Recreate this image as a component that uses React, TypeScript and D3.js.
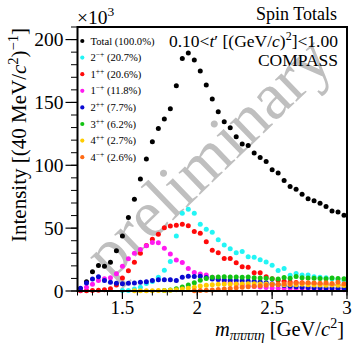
import React from "react";
import * as d3 from "d3";

// 40 MeV/c^2 mass bins (bin centres, GeV/c^2)
const massBins = [
  1.22, 1.26, 1.3, 1.34, 1.38, 1.42, 1.46, 1.5, 1.54, 1.58, 1.62, 1.66, 1.7, 1.74, 1.78,
  1.82, 1.86, 1.9, 1.94, 1.98, 2.02, 2.06, 2.1, 2.14, 2.18, 2.22, 2.26, 2.3, 2.34, 2.38,
  2.42, 2.46, 2.5, 2.54, 2.58, 2.62, 2.66, 2.7, 2.74, 2.78, 2.82, 2.86, 2.9, 2.94, 2.98,
];

// Intensities in units of 10^3 events per bin; null = wave not in the model for that bin
const totalIntensity = [
  1.6, 7.4, 15.4, 20.2, 19.7, 22.8, 32.1, 43.8, 58.5, 73.0, 89.0, 105.0, 118.7, 129.3, 136.8,
  145.0, 163.3, 184.9, 189.4, 183.8, 175.0, 163.8, 152.7, 142.6, 134.7, 129.9, 122.7, 116.9, 115.8, 109.7,
  106.2, 103.1, 96.4, 93.8, 87.9, 83.1, 81.0, 77.0, 73.3, 71.7, 69.9, 67.2, 63.7, 62.9, 60.3,
];
const wave2mp = [
  null, null, null, null, null, null, null, 0.3, 0.4, 1.5, 3.0, 6.0, 7.5, 11.0, 16.5,
  23.5, 43.8, 61.9, 65.1, 61.9, 53.1, 49.1, 46.8, 40.8, 36.6, 33.7, 30.5, 31.4, 27.3, 26.8,
  24.8, 23.1, 20.4, 16.3, 17.9, 12.5, 14.0, 12.8, 12.7, 11.4, 11.0, 10.5, 9.8, 9.0, 8.2,
];
const wave1pp = [
  0.2, 0.2, 0.3, 0.5, 1.0, 1.8, 4.8, 10.3, 16.2, 22.8, 30.0, 36.2, 41.2, 45.2, 50.4,
  51.8, 52.3, 53.1, 52.0, 47.4, 46.0, 39.1, 32.5, 30.5, 25.9, 25.8, 22.4, 19.3, 18.8, 14.6,
  14.6, 11.3, 9.8, 8.5, 7.8, 7.2, 6.8, 6.5, 6.2, 6.0, 5.6, 5.4, 5.0, 4.8, 4.5,
];
const wave1mp = [
  0.8, 2.9, 5.4, 8.4, 9.7, 10.5, 13.7, 19.7, 25.6, 30.0, 33.0, 36.0, 38.5, 38.3, 34.0,
  29.4, 24.6, 22.7, 17.8, 14.8, 13.5, 12.8, 11.0, 9.3, 8.0, 6.7, 5.6, 4.7, 4.1, 3.6,
  3.1, 2.7, 2.4, 2.2, 2.0, 1.9, 1.8, 1.7, 1.6, 1.5, 1.4, 1.3, 1.2, 1.1, 1.0,
];
const wave2pp = [
  2.1, 6.3, 9.6, 11.4, 8.3, 6.9, 6.1, 5.8, 6.1, 6.3, 6.9, 7.4, 8.4, 8.9, 9.0,
  8.9, 8.3, 11.0, 11.8, 11.6, 11.8, 10.8, 9.6, 9.2, 8.8, 8.6, 8.4, 8.2, 8.0, 7.8,
  7.2, 6.6, 5.8, 5.0, 4.4, 3.8, 3.4, 3.0, 2.8, 2.6, 2.5, 2.4, 2.3, 2.2, 2.1,
];
const wave3pp = [
  null, null, null, null, null, null, null, null, null, null, null, null, null, null, 0.3,
  0.8, 1.8, 3.2, 4.8, 6.6, 8.6, 10.0, 11.0, 11.2, 11.3, 11.2, 11.2, 11.0, 11.1, 10.6,
  10.4, 10.2, 9.8, 9.6, 10.8, 10.2, 11.6, 10.6, 10.4, 10.2, 10.0, 9.8, 10.4, 10.0, 9.8,
];
const wave4pp = [
  null, null, null, null, null, null, null, null, null, 0.1, 0.1, 0.1, 0.2, 0.3, 0.4,
  0.6, 1.0, 1.5, 2.2, 3.0, 4.0, 4.6, 5.0, 5.3, 5.5, 5.6, 5.6, 5.5, 5.8, 5.7,
  5.5, 5.5, 5.3, 5.2, 5.0, 5.1, 5.0, 5.3, 5.0, 4.8, 4.8, 4.6, 4.7, 4.5, 4.3,
];
const wave4mp = [
  null, null, null, null, null, null, null, null, null, null, null, null, null, null, null,
  null, null, null, null, 0.1, 0.3, 0.5, 0.8, 1.2, 1.6, 2.0, 2.5, 3.0, 3.4, 3.8,
  4.2, 4.6, 5.0, 5.4, 5.8, 6.0, 6.4, 6.3, 6.5, 6.3, 6.2, 6.6, 6.0, 7.0, 5.8,
];

// Legend entries: base label, superscript, integrated fraction
const seriesNames = ["Total", "2", "1", "1", "2", "3", "4", "4"];
const seriesSup = ["", "\u2212+", "++", "\u2212+", "++", "++", "++", "\u2212+"];
const seriesFractions = ["100.0%", "20.7%", "20.6%", "11.8%", "7.7%", "6.2%", "2.7%", "2.6%"];
const seriesColors = ["#000000", "#22f5f5", "#ff0a0a", "#ff1af0", "#0a0ad2", "#12c312", "#ffcc00", "#ff6a14"];
const seriesValues = [totalIntensity, wave2mp, wave1pp, wave1mp, wave2pp, wave3pp, wave4pp, wave4mp];

const W = 352;
const H = 348;
const FONT = "'Liberation Serif', 'Times New Roman', serif";

export default function App() {
  const x = d3.scaleLinear().domain([1.2, 3.0]).range([77.5, 347]);
  const y = d3.scaleLinear().domain([0, 210]).range([291, 27]);

  const xMajor = [1.5, 2.0, 2.5, 3.0];
  const xMinor = d3.range(12, 31).map((v) => v / 10);
  const yMajor = y.ticks(5);
  const yMinor = d3.range(0, 211, 10);

  const [x0, x1] = x.range();
  const [yb, yt] = y.range();

  return (
    <svg
      width={W}
      height={H}
      viewBox={`0 0 ${W} ${H}`}
      style={{ position: "absolute", left: 0, top: 0, background: "#fff" }}
      fontFamily={FONT}
    >
      <rect x={0} y={0} width={W} height={H} fill="#fff" />

      {/* watermark */}
      <g transform="translate(212.5,161.7) rotate(-44)">
        <text x={0} y={15} textAnchor="middle" fontSize={67} fill="#bfbfbf">
          preliminary
        </text>
      </g>

      {/* data points */}
      {seriesValues.map((vals, si) => (
        <g key={si} fill={seriesColors[si]}>
          {vals.map((v, i) =>
            v == null ? null : <circle key={i} cx={x(massBins[i])} cy={y(v)} r={2.5} />
          )}
        </g>
      ))}

      {/* frame */}
      <rect x={x0} y={yt} width={x1 - x0} height={yb - yt} fill="none" stroke="#000" strokeWidth={2} />

      {/* y ticks */}
      {yMinor.map((t) => (
        <line key={"ym" + t} x1={x0} x2={x0 - 6.5} y1={y(t)} y2={y(t)} stroke="#000" strokeWidth={1} />
      ))}
      {yMajor.map((t) => (
        <g key={"yM" + t}>
          <line x1={x0} x2={x0 - 12} y1={y(t)} y2={y(t)} stroke="#000" strokeWidth={1.2} />
          <text x={63.5} y={y(t)} dy="0.35em" textAnchor="end" fontSize={19.5}>
            {t}
          </text>
        </g>
      ))}

      {/* x ticks */}
      {xMinor.map((t) => (
        <line key={"xm" + t} x1={x(t)} x2={x(t)} y1={yb} y2={yb + 4.5} stroke="#000" strokeWidth={1} />
      ))}
      {xMajor.map((t) => (
        <g key={"xM" + t}>
          <line x1={x(t)} x2={x(t)} y1={yb} y2={yb + 8} stroke="#000" strokeWidth={1.2} />
          <text x={x(t)} y={314} textAnchor="middle" fontSize={19}>
            {String(t)}
          </text>
        </g>
      ))}

      {/* exponent */}
      <text x={77} y={24} fontSize={19.5}>
        {"\u00d710"}
        <tspan fontSize={13.5} dy={-8}>3</tspan>
      </text>

      {/* axis titles */}
      <text transform="translate(25.5,28) rotate(-90)" textAnchor="end" fontSize={21}>
        {"Intensity [(40 MeV/"}
        <tspan fontStyle="italic">c</tspan>
        <tspan fontSize={14.5} dy={-8}>2</tspan>
        <tspan dy={8}>)</tspan>
        <tspan fontSize={14.5} dy={-8}>{"\u22121"}</tspan>
        <tspan dy={8}>]</tspan>
      </text>
      <text x={344} y={336} textAnchor="end" fontSize={20.5}>
        <tspan fontStyle="italic">m</tspan>
        <tspan fontStyle="italic" fontSize={14} dy={4}>{"\u03c0\u03c0\u03c0\u03c0\u03b7"}</tspan>
        <tspan dy={-4}>{" [GeV/"}</tspan>
        <tspan fontStyle="italic">c</tspan>
        <tspan fontSize={14} dy={-8}>2</tspan>
        <tspan dy={8}>]</tspan>
      </text>

      {/* annotations */}
      <text x={337} y={20} textAnchor="end" fontSize={18}>
        Spin Totals
      </text>
      <text x={338} y={47} textAnchor="end" fontSize={17.5}>
        {"0.10<"}
        <tspan fontStyle="italic">t</tspan>
        {"\u2032 [(GeV/"}
        <tspan fontStyle="italic">c</tspan>
        {")"}
        <tspan fontSize={12} dy={-7}>2</tspan>
        <tspan dy={7}>{"]<1.00"}</tspan>
      </text>
      <text x={338} y={66} textAnchor="end" fontSize={17.5}>
        COMPASS
      </text>

      {/* legend */}
      {seriesNames.map((name, i) => {
        const ly = 41 + i * 16.6;
        return (
          <g key={"lg" + i}>
            <circle cx={82.3} cy={ly} r={2.1} fill={seriesColors[i]} />
            <text x={90.5} y={ly + 3.6} fontSize={10.6}>
              {name}
              {seriesSup[i] ? (
                <tspan fontSize={7.5} dy={-4}>{seriesSup[i]}</tspan>
              ) : null}
              <tspan dy={seriesSup[i] ? 4 : 0}>{` (${seriesFractions[i]})`}</tspan>
            </text>
          </g>
        );
      })}
    </svg>
  );
}
